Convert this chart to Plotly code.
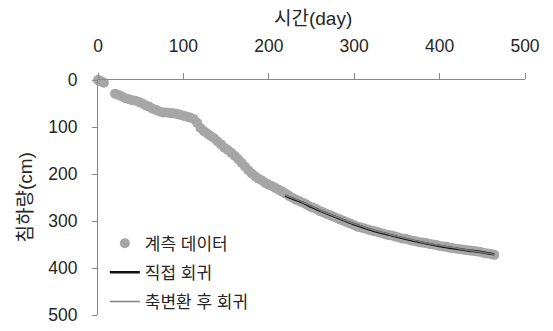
import plotly.graph_objects as go

# Measured settlement data
days = [0, 1, 3, 5, 7,
        20, 24, 28, 32, 36, 40, 44, 48, 52, 56, 60, 64, 68, 72, 76, 80, 84, 88, 92, 96,
        100, 104, 108, 112, 116, 120, 124, 128, 132, 136, 140, 144, 148, 152, 156, 160,
        164, 168, 172, 176, 180, 184, 188, 192, 196, 200, 204, 208, 212, 216, 220, 224,
        228, 232, 236, 240, 244, 248, 252, 256, 260, 264, 268, 272, 276, 280, 284, 288,
        292, 296, 300, 304, 308, 312, 316, 320, 324, 328, 332, 336, 340, 344, 348, 352,
        356, 360, 364, 368, 372, 376, 380, 384, 388, 392, 396, 400, 404, 408, 412, 416,
        420, 424, 428, 432, 436, 440, 444, 448, 452, 456, 460, 464]
settlement = [0, 1, 2, 4, 6,
              29, 32, 35, 39, 41, 43, 44, 47, 50, 54, 57, 61, 64, 67, 69, 69, 70, 71, 72, 74,
              76, 78, 80, 83, 91, 102, 109, 114, 119, 124, 131, 137, 144, 149, 155, 161,
              168, 176, 184, 192, 199, 205, 210, 214, 219, 223, 226, 230, 234, 238, 242, 247,
              251, 255, 258, 261, 265, 269, 272, 275, 279, 282, 285, 288, 291, 294, 297, 300,
              303, 306, 309, 312, 314, 316, 318, 320, 322, 324, 326, 328, 330, 331, 333, 335,
              337, 338, 340, 342, 343, 345, 346, 347, 349, 350, 351, 353, 354, 355, 357, 358,
              359, 360, 361, 362, 363, 364, 365, 366, 368, 369, 370, 372]

# Regression curves
reg_days = [219, 230, 240, 250, 260, 280, 300, 320, 340, 360, 380, 400, 420, 440, 464]
direct_reg = [246, 254, 261, 270, 278, 293, 307, 319, 329, 338, 346, 353, 359, 364, 371]
transform_reg = [245, 253, 260, 269, 277, 292, 306, 318, 328, 337, 345, 352, 358, 364, 371]

x_ticks = [0, 100, 200, 300, 400, 500]
y_ticks = [0, 100, 200, 300, 400, 500]
x_title = "시간(day)"
y_title = "침하량(cm)"

FONT = "Liberation Sans, Noto Sans CJK KR, sans-serif"

fig = go.Figure()
fig.add_trace(go.Scatter(x=days, y=settlement, mode="markers", name="계측 데이터",
                         marker=dict(size=10, color="#a6a6a6"), cliponaxis=False,
                         legendgroup="a"))
fig.add_trace(go.Scatter(x=reg_days, y=direct_reg, mode="lines", name="직접 회귀",
                         line=dict(color="#111111", width=2.5, shape="spline"),
                         legendgroup="b"))
fig.add_trace(go.Scatter(x=reg_days, y=transform_reg, mode="lines", name="축변환 후 회귀",
                         line=dict(color="#7f7f7f", width=1.5, shape="spline"),
                         legendgroup="c"))

# page has an 8px body margin, so the figure is sized/offset to compensate
fig.update_layout(
    width=545, height=323,
    margin=dict(l=90, r=28, t=72, b=16, autoexpand=False),
    paper_bgcolor="white", plot_bgcolor="white",
    font=dict(family=FONT, size=17, color="#262626"),
    showlegend=True,
    legend=dict(x=0.016, y=0.38, xanchor="left", yanchor="top",
                bgcolor="rgba(0,0,0,0)", font=dict(size=17, color="#262626"),
                traceorder="grouped", tracegroupgap=4, itemwidth=30),
    xaxis=dict(side="top", range=[0, 500], tickvals=x_ticks, showgrid=False,
               zeroline=False, showline=True, linecolor="#888888", linewidth=1,
               ticks="outside", ticklen=6, tickcolor="#888888",
               ticklabelstandoff=14, automargin=False,
               tickfont=dict(size=17.5)),
    yaxis=dict(autorange=False, range=[500, 0], tickvals=y_ticks, showgrid=False,
               zeroline=False, showline=True, linecolor="#888888", linewidth=1,
               ticks="outside", ticklen=5, tickcolor="#888888",
               ticklabelstandoff=11, automargin=False,
               tickfont=dict(size=17.5)),
    annotations=[
        dict(text=x_title, xref="paper", yref="paper", x=(313 - 98) / 427,
             y=(315 - 18) / 235, xanchor="center", yanchor="middle",
             showarrow=False, font=dict(size=19)),
        dict(text=y_title, xref="paper", yref="paper", x=(25 - 98) / 427,
             y=0.5, xanchor="center", yanchor="middle", textangle=-90,
             showarrow=False, font=dict(size=19)),
    ],
)

fig.write_html("out.html")
